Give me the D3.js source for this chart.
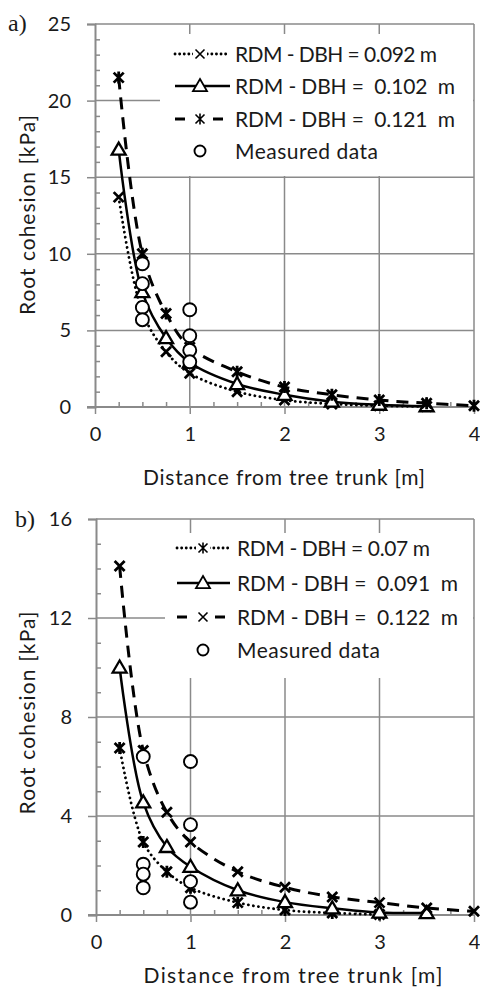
<!DOCTYPE html>
<html>
<head>
<meta charset="utf-8">
<script src="https://cdn.jsdelivr.net/npm/d3@7"></script>
<style>
  html, body { margin: 0; padding: 0; background: #fff; }
  svg { display: block; }
  text { font-family: Lato, "Open Sans", sans-serif; fill: #1a1a1a; }
</style>
</head>
<body>
<svg id="chart" width="480" height="990"></svg>
<script>
// ---------- Data (panel a) ----------
const distA = [0.25, 0.5, 0.75, 1, 1.5, 2, 2.5, 3, 3.5];
const distA3 = [0.25, 0.5, 0.75, 1, 1.5, 2, 2.5, 3, 3.5, 4];
const rdmA092 = [13.7, 6.2, 3.6, 2.2, 1.0, 0.45, 0.2, 0.08, 0.03];
const rdmA102 = [16.8, 7.5, 4.5, 2.9, 1.5, 0.8, 0.35, 0.15, 0.05];
const rdmA121 = [21.5, 10.0, 6.1, 3.9, 2.3, 1.3, 0.8, 0.45, 0.25, 0.08];
const measDistA = [0.5, 0.5, 0.5, 0.5, 1, 1, 1, 1];
const measA = [9.35, 8.05, 6.5, 5.7, 6.35, 4.65, 3.7, 2.95];
const legendA = ["RDM - DBH = 0.092 m", "RDM - DBH =  0.102  m", "RDM - DBH =  0.121  m", "Measured data"];
const yTicksA = [0, 5, 10, 15, 20, 25];

// ---------- Data (panel b) ----------
const distB1 = [0.25, 0.5, 0.75, 1, 1.5, 2, 2.5, 3];
const distB2 = [0.25, 0.5, 0.75, 1, 1.5, 2, 2.5, 3, 3.5];
const distB3 = [0.25, 0.5, 0.75, 1, 1.5, 2, 2.5, 3, 3.5, 4];
const rdmB07 = [6.75, 2.95, 1.75, 1.1, 0.5, 0.2, 0.08, 0.02];
const rdmB091 = [10.0, 4.55, 2.75, 1.95, 1.0, 0.52, 0.27, 0.1, 0.08];
const rdmB122 = [14.1, 6.65, 4.15, 2.95, 1.75, 1.12, 0.73, 0.5, 0.28, 0.15];
const measDistB = [0.5, 0.5, 0.5, 0.5, 1, 1, 1, 1];
const measB = [6.4, 2.05, 1.65, 1.1, 6.2, 3.65, 1.35, 0.52];
const legendB = ["RDM - DBH = 0.07 m", "RDM - DBH =  0.091  m", "RDM - DBH =  0.122  m", "Measured data"];
const yTicksB = [0, 4, 8, 12, 16];

const xTicks = [0, 1, 2, 3, 4];
const xTitle = "Distance from tree trunk [m]";
const yTitle = "Root cohesion [kPa]";

const svg = d3.select("#chart");
const GRID = "#8a8a8a";

function marker(g, type, x, y, big) {
  const sw = big ? 2.8 : 1.6;
  const s = big ? 5 : 4.5;
  if (type === "cross") {
    g.append("path").attr("d", `M${x-s},${y-s}L${x+s},${y+s}M${x-s},${y+s}L${x+s},${y-s}`)
      .attr("stroke", "#000").attr("stroke-width", sw).attr("fill", "none");
  } else if (type === "star") {
    g.append("path").attr("d", `M${x-s},${y-s}L${x+s},${y+s}M${x-s},${y+s}L${x+s},${y-s}M${x},${y-s-1}L${x},${y+s+1}`)
      .attr("stroke", "#000").attr("stroke-width", sw).attr("fill", "none");
  } else if (type === "tri") {
    const r = 7;
    g.append("path").attr("d", `M${x},${y-r}L${x+r},${y+r*0.72}L${x-r},${y+r*0.72}Z`)
      .attr("stroke", "#000").attr("stroke-width", big ? 2.3 : 1.8).attr("fill", "#fff");
  } else if (type === "circle") {
    g.append("circle").attr("cx", x).attr("cy", y).attr("r", big ? 6.5 : 5.5)
      .attr("stroke", "#000").attr("stroke-width", 1.9).attr("fill", "#fff");
  }
}

function panel(cfg) {
  const x = d3.scaleLinear().domain([0, 4]).range([cfg.left, cfg.right]);
  const y = d3.scaleLinear().domain([0, cfg.yMax]).range([cfg.bottom, cfg.top]);
  const g = svg.append("g");

  // grid
  g.selectAll(".hg").data(cfg.yTicks.filter(d => d > 0)).join("line")
    .attr("x1", cfg.left).attr("x2", cfg.right).attr("y1", d => y(d)).attr("y2", d => y(d))
    .attr("stroke", GRID).attr("stroke-width", 1.5);
  g.selectAll(".vg").data(xTicks.filter(d => d > 0)).join("line")
    .attr("x1", d => x(d)).attr("x2", d => x(d)).attr("y1", cfg.top).attr("y2", cfg.bottom)
    .attr("stroke", GRID).attr("stroke-width", 1.5);

  // legend background (covers grid)
  g.append("rect").attr("x", cfg.leg.x0).attr("y", cfg.leg.y0)
    .attr("width", cfg.leg.x1 - cfg.leg.x0).attr("height", cfg.leg.y1 - cfg.leg.y0).attr("fill", "#fff");

  // axes
  const yMinor = d3.range(0, cfg.yMax + 0.001, 1).filter(v => !cfg.yTicks.includes(v));
  const ax = g.append("g").attr("transform", `translate(${cfg.left},0)`)
    .call(d3.axisLeft(y).tickValues(cfg.yTicks).tickSize(8).tickPadding(16).tickFormat(d3.format("d")));
  ax.select(".domain").attr("stroke", GRID).attr("stroke-width", 2);
  ax.selectAll(".tick line").attr("stroke", GRID).attr("stroke-width", 1.5);
  ax.selectAll(".tick text").style("font-family", "Lato").style("font-size", "20px").attr("fill", "#1a1a1a");
  const axm = g.append("g").attr("transform", `translate(${cfg.left},0)`)
    .call(d3.axisLeft(y).tickValues(yMinor).tickSize(-5).tickFormat(""));
  axm.select(".domain").remove();
  axm.selectAll(".tick line").attr("stroke", GRID).attr("stroke-width", 1.5);

  const xMinor = d3.range(0.25, 4, 0.25).filter(v => !xTicks.includes(v));
  const bx = g.append("g").attr("transform", `translate(0,${cfg.bottom})`)
    .call(d3.axisBottom(x).tickValues(xTicks).tickSize(7).tickPadding(13).tickFormat(d3.format("d")));
  bx.select(".domain").attr("stroke", GRID).attr("stroke-width", 2).attr("d", `M${cfg.left - 8},0H${cfg.right}`);
  bx.selectAll(".tick line").attr("stroke", GRID).attr("stroke-width", 1.5);
  bx.selectAll(".tick text").style("font-family", "Lato").style("font-size", "20px").attr("fill", "#1a1a1a");
  const bxm = g.append("g").attr("transform", `translate(0,${cfg.bottom})`)
    .call(d3.axisBottom(x).tickValues(xMinor).tickSize(-5).tickFormat(""));
  bxm.select(".domain").remove();
  bxm.selectAll(".tick line").attr("stroke", GRID).attr("stroke-width", 1.5);

  // series
  const line = d3.line().x(d => x(d[0])).y(d => y(d[1])).curve(d3.curveCatmullRom.alpha(0.5));
  const plot = g.append("g");
  cfg.series.forEach(s => {
    const pts = s.dist.map((d, i) => [d, s.vals[i]]);
    plot.append("path").attr("d", line(pts)).attr("fill", "none").attr("stroke", "#000")
      .attr("stroke-width", s.sw).attr("stroke-dasharray", s.dash).attr("stroke-linecap", s.cap);
  });
  cfg.series.forEach(s => {
    s.dist.forEach((d, i) => marker(plot, s.mk, x(d), y(s.vals[i]), true));
  });
  cfg.measDist.forEach((d, i) => marker(plot, "circle", x(d), y(cfg.meas[i]), true));

  // legend
  const lg = g.append("g");
  cfg.series.forEach((s, i) => {
    const ly = cfg.leg.rows[i];
    lg.append("line").attr("x1", cfg.leg.sx0).attr("x2", cfg.leg.sx1).attr("y1", ly).attr("y2", ly)
      .attr("stroke", "#000").attr("stroke-width", s.sw).attr("stroke-dasharray", s.ldash).attr("stroke-linecap", s.cap);
    if (s.mk !== "tri") lg.append("rect").attr("x", cfg.leg.mx - 7).attr("y", ly - 7).attr("width", 14).attr("height", 14).attr("fill", "#fff");
    marker(lg, s.mk, cfg.leg.mx, ly, false);
  });
  marker(lg, "circle", cfg.leg.mx, cfg.leg.rows[3], false);
  cfg.legendText.forEach((t, i) => {
    lg.append("text").attr("x", cfg.leg.tx).attr("y", cfg.leg.rows[i]).attr("dy", "0.36em")
      .attr("textLength", cfg.leg.tw[i]).attr("lengthAdjust", "spacing")
      .style("font-size", "21px").style("white-space", "pre").text(t);
  });

  // titles
  g.append("text").attr("x", cfg.xt.x).attr("y", cfg.xt.y).attr("dy", "0.36em").attr("text-anchor", "middle")
    .attr("textLength", cfg.xt.w).attr("lengthAdjust", "spacing").style("font-size", "21px").text(xTitle);
  g.append("text").attr("transform", `translate(${cfg.yt.x},${cfg.yt.y}) rotate(-90)`).attr("dy", "0.36em")
    .attr("text-anchor", "middle").attr("textLength", cfg.yt.w).attr("lengthAdjust", "spacing")
    .style("font-size", "21px").text(yTitle);
  g.append("text").attr("x", cfg.lab.x).attr("y", cfg.lab.y)
    .style("font-family", "'Liberation Serif', 'DejaVu Serif', serif").style("font-size", "24px").text(cfg.lab.t);
}

panel({
  left: 95, right: 474, top: 24, bottom: 407, yMax: 25, yTicks: yTicksA,
  series: [
    { dist: distA, vals: rdmA092, mk: "cross", sw: 2.8, dash: "0.1,5", ldash: "0.1,4.5", cap: "round" },
    { dist: distA, vals: rdmA102, mk: "tri", sw: 2.5, dash: null, ldash: null, cap: "butt" },
    { dist: distA3, vals: rdmA121, mk: "star", sw: 3, dash: "12,8", ldash: "10,9", cap: "butt" }
  ],
  measDist: measDistA, meas: measA, legendText: legendA,
  leg: { x0: 160, x1: 473, y0: 34, y1: 176, rows: [54, 86, 119, 151], sx0: 175, sx1: 230, mx: 200, tx: 235, tw: [202, 220, 220, 143] },
  xt: { x: 284, y: 477, w: 282 }, yt: { x: 27, y: 215, w: 200 }, lab: { x: 8, y: 31, t: "a)" }
});

panel({
  left: 96, right: 474, top: 519, bottom: 915, yMax: 16, yTicks: yTicksB,
  series: [
    { dist: distB1, vals: rdmB07, mk: "star", sw: 2.8, dash: "0.1,5", ldash: "0.1,4.5", cap: "round" },
    { dist: distB2, vals: rdmB091, mk: "tri", sw: 2.5, dash: null, ldash: null, cap: "butt" },
    { dist: distB3, vals: rdmB122, mk: "cross", sw: 3, dash: "12,8", ldash: "10,9", cap: "butt" }
  ],
  measDist: measDistB, meas: measB, legendText: legendB,
  leg: { x0: 165, x1: 473, y0: 533, y1: 678, rows: [548, 583, 617, 650], sx0: 177, sx1: 230, mx: 203, tx: 237, tw: [193, 221, 221, 143] },
  xt: { x: 293, y: 975, w: 299 }, yt: { x: 27, y: 713, w: 203 }, lab: { x: 15, y: 527, t: "b)" }
});
</script>
</body>
</html>
